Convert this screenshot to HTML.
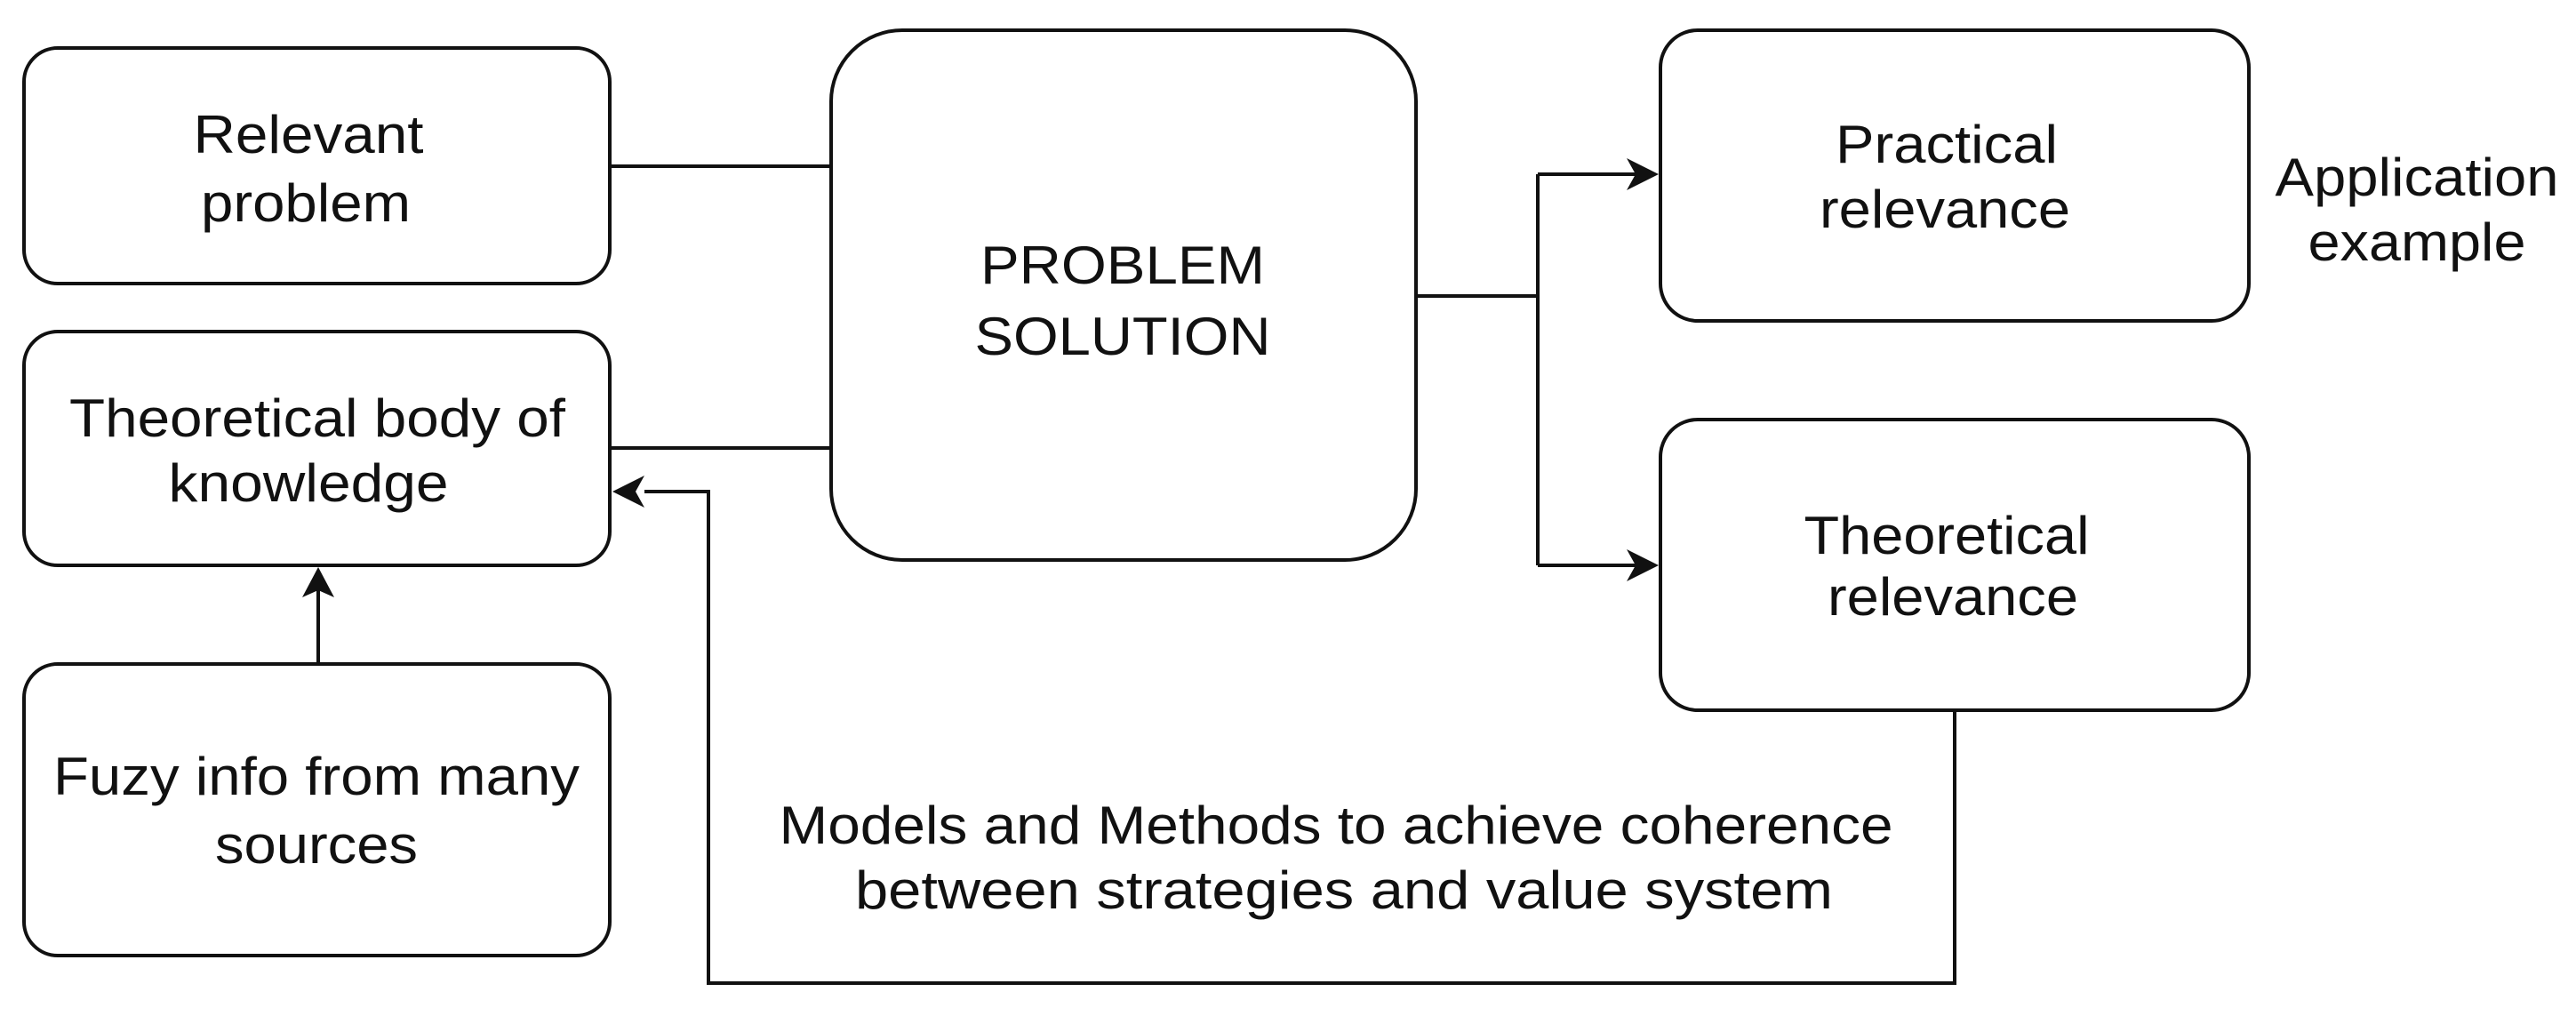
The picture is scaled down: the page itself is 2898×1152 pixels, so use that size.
<!DOCTYPE html>
<html><head><meta charset="utf-8"><style>
html,body{margin:0;padding:0;background:#fff;overflow:hidden;}
svg{display:block;}
text{font-family:"Liberation Sans",Arial,sans-serif;font-size:60px;fill:#111;text-anchor:middle;}
</style></head><body>
<svg width="2898" height="1152" viewBox="0 0 2898 1152" xmlns="http://www.w3.org/2000/svg">
<g fill="none" stroke="#111" stroke-width="4">
<rect x="27" y="54" width="659" height="265" rx="38"/>
<rect x="27" y="373" width="659" height="263" rx="38"/>
<rect x="27" y="747" width="659" height="328" rx="38"/>
<rect x="935" y="34" width="658" height="596" rx="80"/>
<rect x="1868" y="34" width="662" height="327" rx="42"/>
<rect x="1868" y="472" width="662" height="327" rx="42"/>
<path d="M686 187H935"/>
<path d="M686 504H935"/>
<path d="M358 747V660"/>
<path d="M1593 333H1730M1730 196V636M1730 196H1840M1730 636H1840"/>
<path d="M2199 799V1106H797V553H725"/>
</g>
<g fill="#111">
<path d="M358 638L340 672L358 664L376 672Z"/>
<path d="M1866 196L1830 178L1840 196L1830 214Z"/>
<path d="M1866 636L1830 618L1840 636L1830 654Z"/>
<path d="M689 553L725 535L715 553L725 571Z"/>
</g>
<text x="347" y="172" textLength="259" lengthAdjust="spacingAndGlyphs">Relevant</text>
<text x="344" y="249" textLength="236" lengthAdjust="spacingAndGlyphs">problem</text>
<text x="357" y="491" textLength="558" lengthAdjust="spacingAndGlyphs">Theoretical body of</text>
<text x="347" y="564" textLength="315" lengthAdjust="spacingAndGlyphs">knowledge</text>
<text x="356" y="894" textLength="592" lengthAdjust="spacingAndGlyphs">Fuzy info from many</text>
<text x="356" y="971" textLength="228" lengthAdjust="spacingAndGlyphs">sources</text>
<text x="1263" y="319" textLength="320" lengthAdjust="spacingAndGlyphs">PROBLEM</text>
<text x="1263" y="399" textLength="333" lengthAdjust="spacingAndGlyphs">SOLUTION</text>
<text x="2190" y="183" textLength="250" lengthAdjust="spacingAndGlyphs">Practical</text>
<text x="2188" y="256" textLength="282" lengthAdjust="spacingAndGlyphs">relevance</text>
<text x="2190" y="623" textLength="321" lengthAdjust="spacingAndGlyphs">Theoretical</text>
<text x="2197" y="692" textLength="282" lengthAdjust="spacingAndGlyphs">relevance</text>
<text x="2719" y="220" textLength="319" lengthAdjust="spacingAndGlyphs">Application</text>
<text x="2719" y="293" textLength="245" lengthAdjust="spacingAndGlyphs">example</text>
<text x="1503" y="949" textLength="1253" lengthAdjust="spacingAndGlyphs">Models and Methods to achieve coherence</text>
<text x="1512" y="1022" textLength="1100" lengthAdjust="spacingAndGlyphs">between  strategies and value system</text>
</svg>
</body></html>
